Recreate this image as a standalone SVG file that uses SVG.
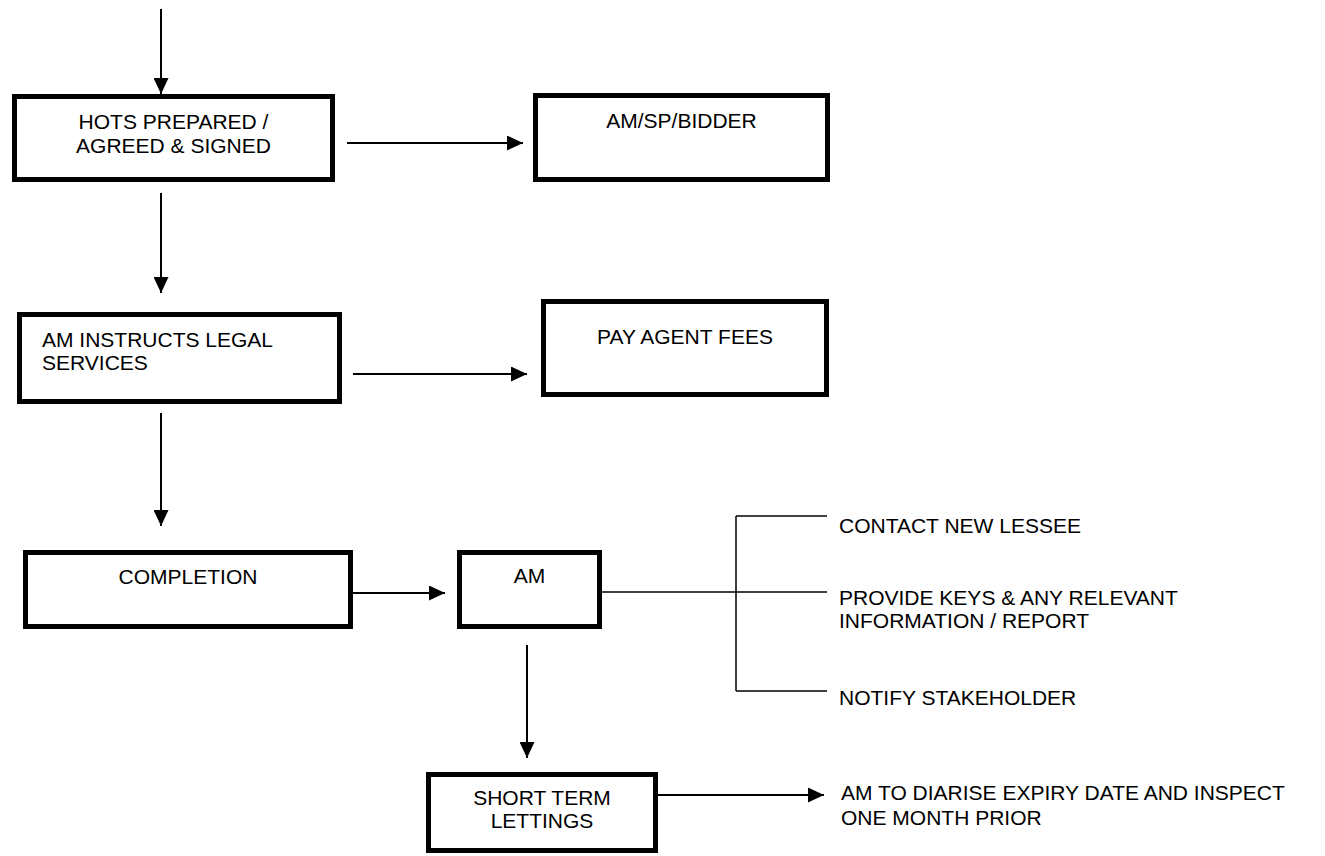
<svg xmlns="http://www.w3.org/2000/svg" width="1325" height="856" viewBox="0 0 1325 856">
<style>
.box{fill:#fff;stroke:#000;stroke-width:5}
.t{font-family:"Liberation Sans",Arial,sans-serif;font-size:21px;fill:#000}
.c{text-anchor:middle}
.conn{stroke:#000;stroke-width:2;fill:none}
.br{stroke:#000;stroke-width:1.5;fill:none}
</style>
<defs>
<marker id="ah" markerUnits="userSpaceOnUse" markerWidth="16" markerHeight="15" refX="16" refY="7.5" orient="auto">
<path d="M0,0 L16,7.5 L0,15 Z" fill="#000"/>
</marker>
</defs>
<rect width="1325" height="856" fill="#fff"/>
<g id="connectors">
<line class="conn" x1="161" y1="9" x2="161" y2="94" marker-end="url(#ah)"/>
<line class="conn" x1="347" y1="143" x2="523" y2="143" marker-end="url(#ah)"/>
<line class="conn" x1="161" y1="193" x2="161" y2="293" marker-end="url(#ah)"/>
<line class="conn" x1="353" y1="374" x2="527" y2="374" marker-end="url(#ah)"/>
<line class="conn" x1="161" y1="413" x2="161" y2="526" marker-end="url(#ah)"/>
<line class="conn" x1="353" y1="593" x2="445" y2="593" marker-end="url(#ah)"/>
<line class="conn" x1="527" y1="645" x2="527" y2="758" marker-end="url(#ah)"/>
<line class="conn" x1="655" y1="795" x2="824" y2="795" marker-end="url(#ah)"/>
<line class="br" x1="602" y1="592" x2="736" y2="592"/>
<line class="br" x1="736" y1="516" x2="736" y2="691"/>
<line class="br" x1="736" y1="516" x2="827" y2="516"/>
<line class="br" x1="736" y1="592" x2="827" y2="592"/>
<line class="br" x1="736" y1="691" x2="827" y2="691"/>
</g>
<g id="hots">
<rect class="box" x="14.5" y="96.5" width="318" height="83"/>
<text class="t c" x="173.5" y="129">HOTS PREPARED /</text>
<text class="t c" x="173.5" y="153">AGREED &amp; SIGNED</text>
</g>
<g id="bidder">
<rect class="box" x="535.5" y="95.5" width="292" height="84"/>
<text class="t c" x="681.5" y="128">AM/SP/BIDDER</text>
</g>
<g id="instructs">
<rect class="box" x="19.5" y="314.5" width="320" height="87"/>
<text class="t" x="42" y="347">AM INSTRUCTS LEGAL</text>
<text class="t" x="42" y="370">SERVICES</text>
</g>
<g id="fees">
<rect class="box" x="543.5" y="301.5" width="283" height="93"/>
<text class="t c" x="685" y="344">PAY AGENT FEES</text>
</g>
<g id="completion">
<rect class="box" x="25.5" y="552.5" width="325" height="74"/>
<text class="t c" x="188" y="584">COMPLETION</text>
</g>
<g id="am">
<rect class="box" x="459.5" y="552.5" width="140" height="74"/>
<text class="t c" x="529.5" y="583">AM</text>
</g>
<g id="contact">
<text class="t" x="839" y="533">CONTACT NEW LESSEE</text>
</g>
<g id="provide">
<text class="t" x="839" y="605">PROVIDE KEYS &amp; ANY RELEVANT</text>
<text class="t" x="839" y="628">INFORMATION / REPORT</text>
</g>
<g id="notify">
<text class="t" x="839" y="705">NOTIFY STAKEHOLDER</text>
</g>
<g id="shortterm">
<rect class="box" x="428.5" y="774.5" width="227" height="76"/>
<text class="t c" x="542" y="805">SHORT TERM</text>
<text class="t c" x="542" y="828">LETTINGS</text>
</g>
<g id="diarise">
<text class="t" x="841" y="800">AM TO DIARISE EXPIRY DATE AND INSPECT</text>
<text class="t" x="841" y="825">ONE MONTH PRIOR</text>
</g>
</svg>
